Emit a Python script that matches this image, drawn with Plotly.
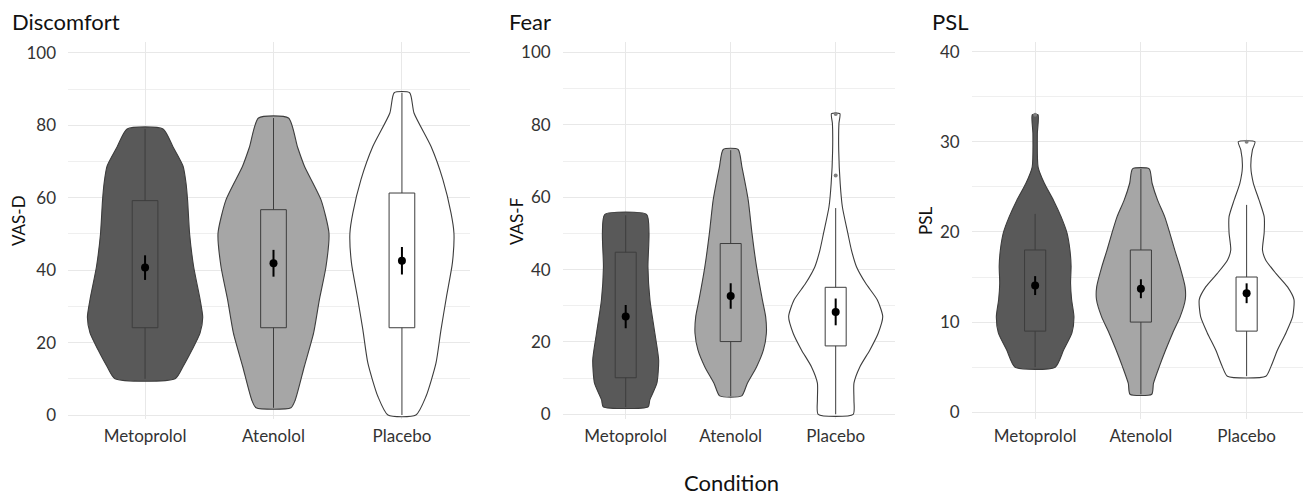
import plotly.graph_objects as go

# page is 1311x495; the html body has an 8px margin, so the figure is 8px smaller
W, H = 1311, 495
OFF = 8
FW, FH = W - OFF, H - OFF

categories = ["Metoprolol", "Atenolol", "Placebo"]
panel_titles = ["Discomfort", "Fear", "PSL"]
y_titles = ["VAS-D", "VAS-F", "PSL"]
x_title = "Condition"

# ---- Box / mean summaries ----
disc_q1 = [24.1, 24.1, 24.1]
disc_q3 = [59.2, 56.7, 61.3]
disc_lo = [10, 2, 0]
disc_hi = [79, 82, 89]
disc_mean = [40.7, 41.9, 42.6]
disc_err = [3.4, 3.7, 3.8]

fear_q1 = [10.1, 20.1, 18.9]
fear_q3 = [44.8, 47.2, 35.1]
fear_lo = [2, 5, 0]
fear_hi = [55, 73, 57]
fear_mean = [27.0, 32.7, 28.3]
fear_err = [3.2, 3.5, 3.7]
fear_out_cat = [2, 2]
fear_out_val = [66, 83]

psl_q1 = [9, 10, 9]
psl_q3 = [18, 18, 15]
psl_lo = [5, 2, 4]
psl_hi = [22, 27, 23]
psl_mean = [14.05, 13.7, 13.2]
psl_err = [1.05, 1.05, 1.1]
psl_out_cat = [0, 2]
psl_out_val = [33, 30]

# ---- Violin density profiles: values (top -> bottom) and half-widths (category units) ----
disc_met_v = [79, 74, 68.7, 64, 59.4, 50, 41, 32, 27, 22.6, 18, 13.4, 10]
disc_met_w = [0.140, 0.218, 0.296, 0.319, 0.331, 0.347, 0.378, 0.428, 0.449, 0.428, 0.366, 0.296, 0.234]
disc_ate_v = [82, 74, 68.7, 59.4, 50.2, 41, 31.8, 22.6, 13.4, 4.1, 2]
disc_ate_w = [0.117, 0.187, 0.241, 0.370, 0.432, 0.409, 0.357, 0.312, 0.240, 0.169, 0.136]
disc_pla_v = [89, 83.4, 74.2, 65, 55.8, 50.2, 42, 32.7, 23.5, 14.3, 5.1, 0]
disc_pla_w = [0.060, 0.094, 0.226, 0.319, 0.382, 0.405, 0.393, 0.347, 0.304, 0.265, 0.187, 0.109]

fear_met_v = [55.2, 50, 40.8, 31.6, 22.4, 15, 8.6, 4, 2.1]
fear_met_w = [0.200, 0.222, 0.212, 0.231, 0.278, 0.314, 0.297, 0.230, 0.214]
fear_ate_v = [73.2, 68.4, 59.2, 50, 40.8, 31.6, 27, 22.4, 17.8, 13.1, 8.6, 5.1]
fear_ate_w = [0.071, 0.107, 0.167, 0.203, 0.246, 0.302, 0.333, 0.340, 0.312, 0.246, 0.159, 0.105]
fear_pla_v = [83.1, 80.4, 73, 63.8, 57.3, 50, 45.4, 40.8, 36.2, 31.6, 27, 22.4, 17.8, 13.1, 8.6, 4, 0]
fear_pla_w = [0.040, 0.031, 0.029, 0.043, 0.064, 0.116, 0.150, 0.198, 0.286, 0.397, 0.448, 0.405, 0.326, 0.230, 0.174, 0.174, 0.167]

psl_met_v = [33, 30.9, 27.2, 25.4, 23.5, 21.7, 19.9, 18, 16.2, 14.3, 12.5, 10.6, 8.8, 6.9, 5]
psl_met_w = [0.027, 0.021, 0.028, 0.087, 0.174, 0.245, 0.301, 0.329, 0.340, 0.335, 0.345, 0.367, 0.348, 0.269, 0.190]
psl_ate_v = [27, 25.4, 23.5, 21.7, 19.9, 18, 16.2, 13.9, 12.5, 10.6, 8.8, 6.9, 5.06, 3.2, 2]
psl_ate_w = [0.079, 0.106, 0.159, 0.225, 0.273, 0.320, 0.368, 0.418, 0.420, 0.372, 0.301, 0.234, 0.174, 0.119, 0.103]
psl_pla_v = [30, 29.1, 27.2, 25.4, 23.5, 21.7, 19.9, 18, 16.9, 15.4, 13.9, 12.5, 10.6, 8.8, 6.9, 5.06, 4]
psl_pla_w = [0.079, 0.055, 0.040, 0.064, 0.119, 0.166, 0.166, 0.150, 0.180, 0.277, 0.387, 0.448, 0.435, 0.372, 0.292, 0.230, 0.182]

# ---- styling ----
FONT = "Lato"
fills = ["#595959", "#a6a6a6", "#ffffff"]
edge = "#3d3d3d"
grid = "#e8e8e8"
tick_color = "#333333"
BOX_HALF = 0.1  # half box width in category units


def px_x(p):
    return (p - OFF) / FW


def px_y(p):
    return 1 - (p - OFF) / FH


panels = [
    dict(q1=disc_q1, q3=disc_q3, lo=disc_lo, hi=disc_hi, mean=disc_mean, err=disc_err,
         out_c=[], out_v=[],
         viol=[(disc_met_v, disc_met_w), (disc_ate_v, disc_ate_w), (disc_pla_v, disc_pla_w)],
         xdom=[px_x(68), px_x(470)], xr=[-0.6, 2.53], yr=[-1.1, 103.0], dtick=20, mdtick=10),
    dict(q1=fear_q1, q3=fear_q3, lo=fear_lo, hi=fear_hi, mean=fear_mean, err=fear_err,
         out_c=fear_out_cat, out_v=fear_out_val,
         viol=[(fear_met_v, fear_met_w), (fear_ate_v, fear_ate_w), (fear_pla_v, fear_pla_w)],
         xdom=[px_x(562.7), px_x(895)], xr=[-0.6, 2.565], yr=[-1.3, 102.9], dtick=20, mdtick=10),
    dict(q1=psl_q1, q3=psl_q3, lo=psl_lo, hi=psl_hi, mean=psl_mean, err=psl_err,
         out_c=psl_out_cat, out_v=psl_out_val,
         viol=[(psl_met_v, psl_met_w), (psl_ate_v, psl_ate_w), (psl_pla_v, psl_pla_w)],
         xdom=[px_x(971.7), px_x(1309)], xr=[-0.6, 2.59], yr=[-0.75, 41.07], dtick=10, mdtick=5),
]

ydom = [px_y(419), px_y(42)]

fig = go.Figure()
layout = dict(
    width=FW, height=FH, margin=dict(l=0, r=0, t=0, b=0, pad=0),
    paper_bgcolor="white", plot_bgcolor="white", showlegend=False,
    font=dict(family=FONT, color=tick_color),
)

for p_i, p in enumerate(panels):
    sfx = "" if p_i == 0 else str(p_i + 1)
    xa, ya = "x" + sfx, "y" + sfx
    # violins
    for c_i in range(3):
        vals, ws = p["viol"][c_i]
        xs = [c_i + w for w in ws] + [c_i - w for w in reversed(ws)] + [c_i + ws[0]]
        ys = list(vals) + list(reversed(vals)) + [vals[0]]
        fig.add_trace(go.Scatter(
            x=xs, y=ys, mode="lines", fill="toself", fillcolor=fills[c_i],
            line=dict(color=edge, width=1.1, shape="spline", smoothing=0.6),
            xaxis=xa, yaxis=ya, hoverinfo="skip"))
    # boxplots (box + whiskers), drawn on top of violins
    bx, by = [], []
    for c_i in range(3):
        q1, q3, lo, hi = p["q1"][c_i], p["q3"][c_i], p["lo"][c_i], p["hi"][c_i]
        bx += [c_i - BOX_HALF, c_i + BOX_HALF, c_i + BOX_HALF, c_i - BOX_HALF, c_i - BOX_HALF, None,
               c_i, c_i, None, c_i, c_i, None]
        by += [q1, q1, q3, q3, q1, None, q3, hi, None, q1, lo, None]
    fig.add_trace(go.Scatter(
        x=bx, y=by, mode="lines", line=dict(color=edge, width=1),
        xaxis=xa, yaxis=ya, hoverinfo="skip"))
    if p["out_c"]:
        fig.add_trace(go.Scatter(
            x=p["out_c"], y=p["out_v"], mode="markers",
            marker=dict(color="#7f7f7f", size=4),
            xaxis=xa, yaxis=ya, hoverinfo="skip"))
    fig.add_trace(go.Scatter(
        x=[0, 1, 2], y=p["mean"], mode="markers",
        marker=dict(color="black", size=8),
        error_y=dict(type="data", array=p["err"], color="black", thickness=2, width=0),
        xaxis=xa, yaxis=ya, hoverinfo="skip"))

    layout["xaxis" + sfx] = dict(
        domain=p["xdom"], range=p["xr"], anchor=ya,
        tickmode="array", tickvals=[0, 1, 2], ticktext=categories,
        showgrid=True, gridcolor=grid, gridwidth=1, zeroline=False, showline=False,
        ticks="", ticklabelstandoff=5, automargin=False,
        tickfont=dict(family=FONT, size=17, color=tick_color))
    layout["yaxis" + sfx] = dict(
        domain=ydom, range=p["yr"], anchor=xa,
        tick0=0, dtick=p["dtick"],
        showgrid=True, gridcolor=grid, gridwidth=1.2, zeroline=False, showline=False,
        minor=dict(tick0=0, dtick=p["mdtick"], showgrid=True, gridcolor="#efefef", gridwidth=1),
        ticks="", ticklabelstandoff=11, automargin=False,
        tickfont=dict(family=FONT, size=17, color=tick_color))

title_x = [10, 506.7, 930]
ytitle_x = [18, 516, 925]
ann = []
for p_i in range(3):
    ann.append(dict(text=panel_titles[p_i], x=px_x(title_x[p_i]), y=px_y(22),
                    xref="paper", yref="paper", xanchor="left", yanchor="middle",
                    showarrow=False, font=dict(family=FONT, size=22, color="#111111")))
    ann.append(dict(text=y_titles[p_i], x=px_x(ytitle_x[p_i]), y=px_y(221),
                    xref="paper", yref="paper", xanchor="center", yanchor="middle",
                    textangle=-90, showarrow=False,
                    font=dict(family=FONT, size=17, color="#111111")))
ann.append(dict(text=x_title, x=px_x(731), y=px_y(482), xref="paper", yref="paper",
                xanchor="center", yanchor="middle", showarrow=False,
                font=dict(family=FONT, size=22, color="#111111")))
layout["annotations"] = ann

fig.update_layout(**layout)
fig.write_html("out.html")
